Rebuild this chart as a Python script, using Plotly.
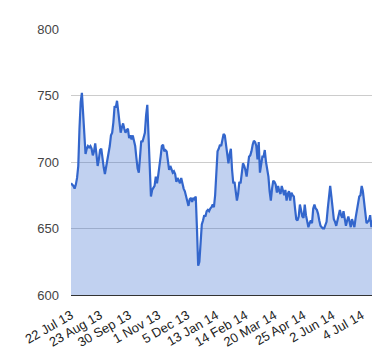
import plotly.graph_objects as go

values = [
    684, 683, 682, 680, 683, 688, 697, 725, 745, 752,
    735, 718, 706, 710, 712, 711, 712, 710, 705, 708,
    714, 706, 697, 702, 709, 710, 700, 696, 691, 696,
    701, 704, 712, 720, 722, 730, 742, 741, 746, 738,
    728, 722, 726, 729, 725, 722, 724, 725, 718, 720,
    717, 720, 716, 712, 703, 695, 692, 705, 716, 715,
    718, 722, 735, 743, 720, 690, 674, 679, 681, 682,
    689, 684, 690, 696, 704, 712, 713, 708, 709, 708,
    702, 694, 697, 695, 692, 693, 691, 685, 688, 686,
    684, 688, 683, 680, 678, 674, 670, 667, 672, 673,
    670, 673, 672, 674, 650, 622, 625, 640, 653, 656,
    660, 659, 663, 664, 663, 665, 666, 668, 666, 675,
    695, 708, 710, 713, 712, 716, 721, 720, 714, 708,
    699, 706, 710, 694, 684, 685, 679, 671, 676, 685,
    684, 690, 699, 697, 694, 689, 698, 704, 705, 708,
    713, 716, 715, 712, 702, 715, 692, 700, 704, 704,
    709, 700, 695, 689, 678, 671, 680, 686, 685, 683,
    677, 682, 678, 676, 682, 677, 675, 679, 671, 676,
    678, 671, 677, 675, 674, 665, 657, 656, 659, 668,
    663, 659, 658, 668, 660, 654, 651, 654, 656, 654,
    665, 668, 665, 664, 661, 656, 652, 651, 650, 650,
    652, 655, 665, 677, 682, 674, 664, 657, 655, 652,
    656, 660, 664, 660, 658, 663, 657, 652, 656, 659,
    655, 651, 657, 653, 651, 658, 664, 670, 674, 675,
    682, 678, 670, 658, 654, 655, 656, 660, 651, 656,
    654, 655,
]

tick_labels = ["22 Jul 13", "23 Aug 13", "30 Sep 13", "1 Nov 13", "5 Dec 13",
               "13 Jan 14", "14 Feb 14", "20 Mar 14", "25 Apr 14", "2 Jun 14",
               "4 Jul 14"]
label_step = 24
y_ticks = [600, 650, 700, 750, 800]

x = list(range(len(values)))
tick_pos = [i * label_step for i in range(len(tick_labels))]

fig = go.Figure()
fig.add_trace(go.Scatter(
    x=x, y=values, mode="lines",
    line=dict(color="#3366cc", width=2.2),
    fill="tozeroy", fillcolor="rgba(51,102,204,0.3)",
    hoverinfo="skip",
))

fig.update_layout(
    width=372, height=352,
    margin=dict(l=63, r=5, t=21, b=65),
    paper_bgcolor="white", plot_bgcolor="white",
    showlegend=False,
    font=dict(family="Liberation Sans, Arial, sans-serif", size=13, color="#444"),
    xaxis=dict(
        range=[0, len(values) - 1],
        tickmode="array", tickvals=tick_pos, ticktext=tick_labels,
        tickangle=-30, showgrid=False, zeroline=False,
        showline=True, linecolor="#333", linewidth=1,
        ticks="outside", ticklen=7, tickcolor="rgba(0,0,0,0)",
        tickfont=dict(size=13, color="#222"),
    ),
    yaxis=dict(
        range=[600, 800],
        tickmode="array", tickvals=y_ticks,
        showgrid=True, gridcolor="#cccccc", gridwidth=1,
        zeroline=False, ticks="", ticklabelstandoff=11,
        tickfont=dict(size=13, color="#444"),
    ),
)

fig.write_html("out.html")
